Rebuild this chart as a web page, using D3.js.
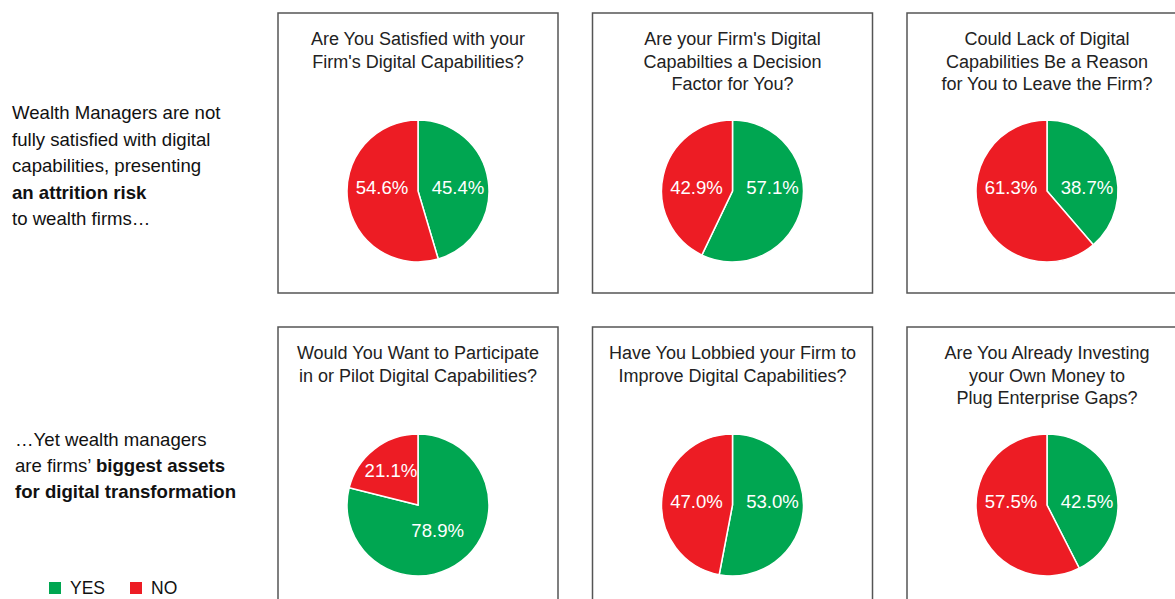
<!DOCTYPE html>
<html><head><meta charset="utf-8">
<script src="https://cdn.jsdelivr.net/npm/d3@7"></script>
<style>body{margin:0;background:#fff}svg{display:block;font-family:"Liberation Sans",Arial,Helvetica,sans-serif}</style>
</head><body><svg id="c" width="1175" height="599"></svg>
<script>
const questions = [
  ["Are You Satisfied with your", "Firm's Digital Capabilities?"],
  ["Are your Firm's Digital", "Capabilties a Decision", "Factor for You?"],
  ["Could Lack of Digital", "Capabilities Be a Reason", "for You to Leave the Firm?"],
  ["Would You Want to Participate", "in or Pilot Digital Capabilities?"],
  ["Have You Lobbied your Firm to", "Improve Digital Capabilities?"],
  ["Are You Already Investing", "your Own Money to", "Plug Enterprise Gaps?"]
];
const yesValues = [45.4, 57.1, 38.7, 78.9, 53.0, 42.5];
const noValues  = [54.6, 42.9, 61.3, 21.1, 47.0, 57.5];
const categories = ["YES", "NO"];
const colors = ["#00A651", "#ED1C24"];
const sideText1 = [
  [{t:"Wealth Managers are not"}],
  [{t:"fully satisfied with digital"}],
  [{t:"capabilities, presenting"}],
  [{t:"an attrition risk", b:true}],
  [{t:"to wealth firms…"}]
];
const sideText2 = [
  [{t:"…Yet wealth managers"}],
  [{t:"are firms’ "},{t:"biggest assets", b:true}],
  [{t:"for digital transformation", b:true}]
];

const svg = d3.select("#c");
const color = d3.scaleOrdinal().domain(categories).range(colors);
const colX = d3.scalePoint().domain([0,1,2]).range([278, 907]);
const rowY = d3.scalePoint().domain([0,1]).range([13, 327]);
const W = 280, H = 280, R = 71;
const pie = d3.pie().sort(null).value(d => d.v);
const arc = d3.arc().innerRadius(0).outerRadius(R);
const bigLabelArc = d3.arc().innerRadius(32).outerRadius(32);
const smallLabelArc = d3.arc().innerRadius(44).outerRadius(44);

function labelPos(d, yes) {
  // both slices cross the horizontal axis -> side-by-side labels
  if (yes > 25 && yes < 75) {
    return [d.data.k === "YES" ? 40 : -36, -4];
  }
  return (d.data.v > 50 ? bigLabelArc : smallLabelArc).centroid(d);
}

questions.forEach((q, i) => {
  const g = svg.append("g").attr("transform", `translate(${colX(i%3)},${rowY(Math.floor(i/3))})`);
  g.append("rect").attr("x",0).attr("y",0).attr("width",W).attr("height",H)
    .attr("fill","none").attr("stroke","#555").attr("stroke-width",1.5);
  g.append("text").attr("text-anchor","middle").attr("font-size",18).attr("fill","#222")
    .selectAll("tspan").data(q).join("tspan")
    .attr("x", W/2).attr("y", (d,j) => 32 + j*22.5).text(d => d);
  const data = [{k:"YES", v:yesValues[i]}, {k:"NO", v:noValues[i]}];
  const pg = g.append("g").attr("transform", `translate(${W/2},178)`);
  const arcs = pie(data);
  pg.selectAll("path").data(arcs).join("path").attr("d", arc)
    .attr("fill", d => color(d.data.k)).attr("stroke","#fff").attr("stroke-width",1.5);
  pg.selectAll("text").data(arcs).join("text")
    .attr("transform", d => `translate(${labelPos(d, yesValues[i])})`)
    .attr("text-anchor","middle").attr("dy","0.35em").attr("font-size",18.6).attr("fill","#fff")
    .text(d => d.data.v.toFixed(1) + "%");
});

function side(lines, x, y0, lh) {
  const t = svg.append("text").attr("font-size",18.6).attr("fill","#111");
  lines.forEach((ln, j) => {
    ln.forEach((s, k) => {
      const ts = t.append("tspan").text(s.t).attr("font-weight", s.b ? "bold" : null);
      if (k === 0) ts.attr("x", x).attr("y", y0 + j*lh);
    });
  });
}
side(sideText1, 12, 119, 26.5);
side(sideText2, 15, 446, 26);

const lg = svg.append("g").attr("transform","translate(49,582)");
const li = lg.selectAll("g").data(categories).join("g").attr("transform",(d,i)=>`translate(${i*81},0)`);
li.append("rect").attr("width",12).attr("height",12).attr("fill", d => color(d));
li.append("text").attr("x",21).attr("y",12).attr("font-size",17.5).attr("fill","#111").text(d => d);
</script></body></html>
